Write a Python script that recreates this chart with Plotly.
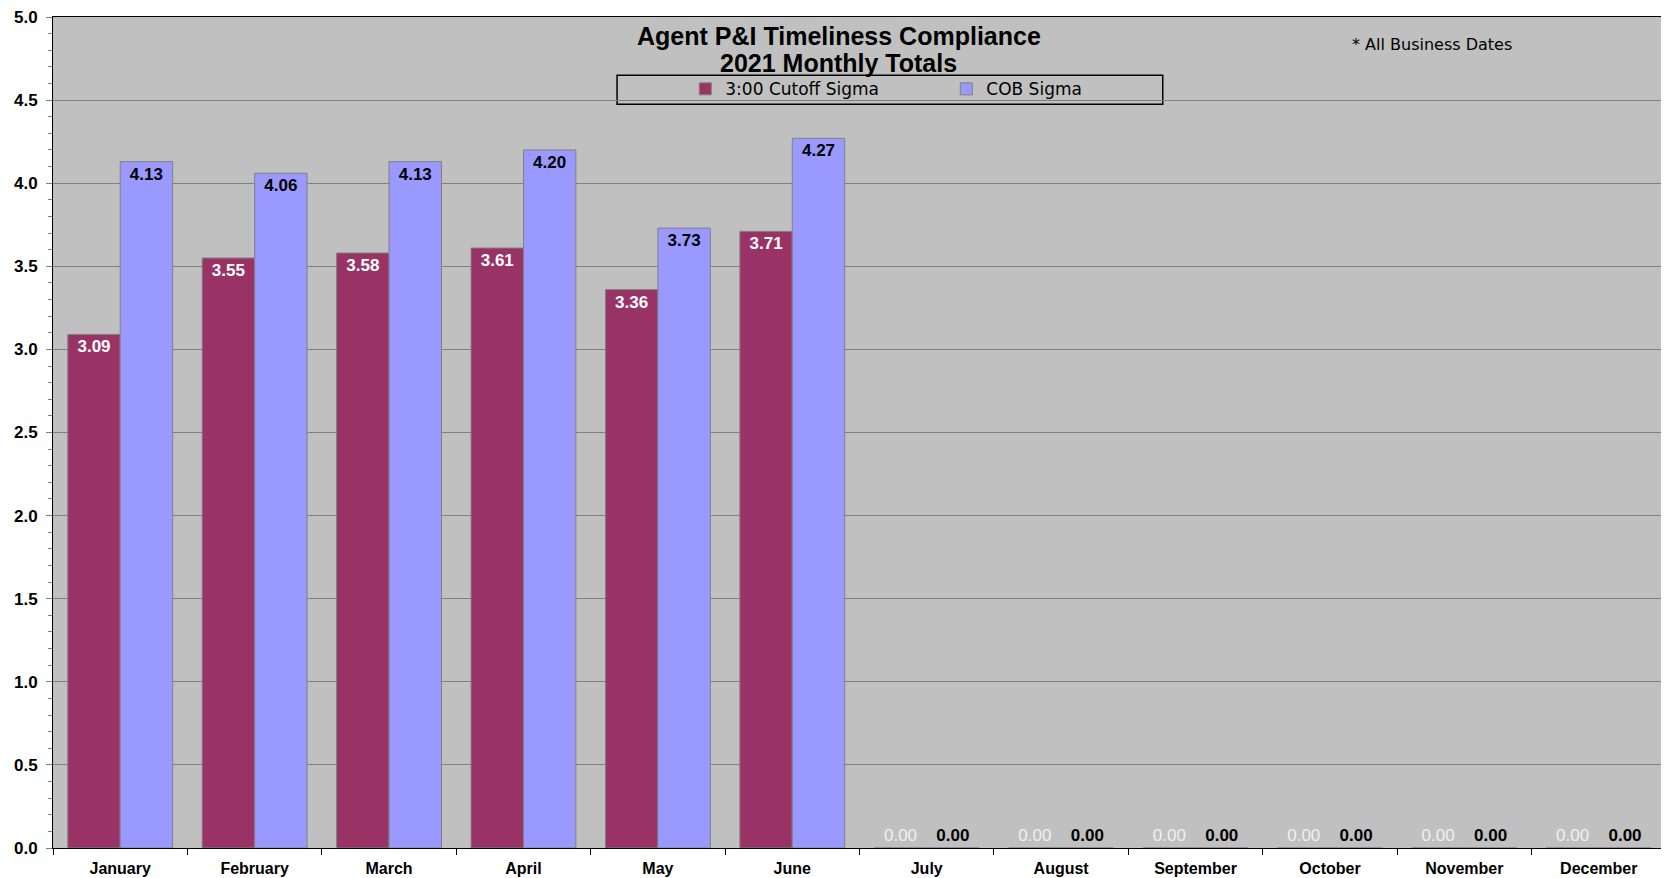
import plotly.graph_objects as go

months = ["January", "February", "March", "April", "May", "June",
          "July", "August", "September", "October", "November", "December"]
cutoff_sigma = [3.09, 3.55, 3.58, 3.61, 3.36, 3.71, 0, 0, 0, 0, 0, 0]
cob_sigma = [4.13, 4.06, 4.13, 4.20, 3.73, 4.27, 0, 0, 0, 0, 0, 0]
y_ticks = [0.0, 0.5, 1.0, 1.5, 2.0, 2.5, 3.0, 3.5, 4.0, 4.5, 5.0]

def positions(vals):
    return ["inside" if v > 0 else "outside" for v in vals]

fig = go.Figure()
fig.add_trace(go.Bar(
    x=months, y=cutoff_sigma, name="3:00 Cutoff Sigma",
    marker=dict(color="#993366", line=dict(color="#808080", width=1)),
    text=[f"{v:.2f}" for v in cutoff_sigma],
    textposition=positions(cutoff_sigma),
    insidetextanchor="end",
    textangle=0,
    insidetextfont=dict(family="Arial", size=17, color="white", weight="bold"),
    outsidetextfont=dict(family="Arial", size=17, color="#f0f0f0"),
    cliponaxis=False,
))
fig.add_trace(go.Bar(
    x=months, y=cob_sigma, name="COB Sigma",
    marker=dict(color="#9999FF", line=dict(color="#808080", width=1)),
    text=[f"{v:.2f}" for v in cob_sigma],
    textposition=positions(cob_sigma),
    insidetextanchor="end",
    textangle=0,
    insidetextfont=dict(family="Arial", size=17, color="black", weight="bold"),
    outsidetextfont=dict(family="Arial", size=17, color="black", weight="bold"),
    cliponaxis=False,
))

fig.update_layout(
    width=1661, height=870,
    margin=dict(l=45, r=3, t=9, b=30),
    paper_bgcolor="white",
    plot_bgcolor="#C0C0C0",
    barmode="group", bargap=0.22, bargroupgap=0,
    showlegend=True,
    legend=dict(orientation="h", x=0.392, y=0.913, xanchor="left", yanchor="middle",
                bgcolor="rgba(0,0,0,0)", borderwidth=0,
                font=dict(family="DejaVu Sans", size=17, color="black"),
                entrywidth=216, entrywidthmode="pixels", itemwidth=30),
    xaxis=dict(
        showline=True, linecolor="black", linewidth=1, mirror=True,
        ticks="outside", tickson="boundaries", ticklen=6, tickcolor="black",
        ticklabelstandoff=6, automargin=False,
        tickfont=dict(family="Arial", size=16, color="black", weight="bold"),
        showgrid=False,
    ),
    yaxis=dict(
        range=[0, 5], tickvals=y_ticks, tickformat=".1f",
        showline=True, linecolor="black", linewidth=1, mirror=True,
        ticks="outside", ticklen=6, tickcolor="#808080",
        ticklabelstandoff=5, ticklabeloverflow="allow", automargin=False,
        tickfont=dict(family="Arial", size=17, color="black", weight="bold"),
        showgrid=True, gridcolor="#808080", gridwidth=1,
        minor=dict(dtick=0.1, ticks="outside", ticklen=4, tickcolor="#808080", showgrid=False),
        zeroline=False,
    ),
    shapes=[dict(type="rect", xref="paper", yref="paper",
                 x0=0.3497, x1=0.688, y0=0.895, y1=0.930,
                 line=dict(color="black", width=1.5), fillcolor="#C0C0C0", layer="below")],
    annotations=[
        dict(text="<b>Agent P&I Timeliness Compliance</b>",
             xref="paper", yref="paper", x=0.487, y=0.977, xanchor="center", yanchor="middle",
             showarrow=False, font=dict(family="Arial", size=25, color="black")),
        dict(text="<b>2021 Monthly Totals</b>",
             xref="paper", yref="paper", x=0.487, y=0.945, xanchor="center", yanchor="middle",
             showarrow=False, font=dict(family="Arial", size=25, color="black")),
        dict(text="* All Business Dates", xref="paper", yref="paper",
             x=0.804, y=0.967, xanchor="left", yanchor="middle", showarrow=False,
             font=dict(family="DejaVu Sans", size=16, color="black")),
    ],
)

fig.write_html("out.html")
